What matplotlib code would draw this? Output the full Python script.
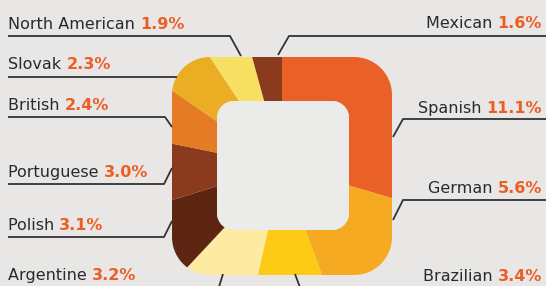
import numpy as np
import matplotlib
matplotlib.use('Agg')
import matplotlib.pyplot as plt
from matplotlib.path import Path
from matplotlib.patches import PathPatch

# data, clockwise from 12 o'clock
groups = ['Spanish', 'German', 'Brazilian', 'Argentine', 'Polish',
          'Portuguese', 'British', 'Slovak', 'North American', 'Mexican']
shares = [11.1, 5.6, 3.4, 3.2, 3.1, 3.0, 2.4, 2.3, 1.9, 1.6]
colors = ['#E96126', '#F5AA21', '#FDCA15', '#FEEBA2', '#5E2612',
          '#8A3A1D', '#E67B25', '#EBAD23', '#F7DF62', '#8A3A1D']

BG = '#E8E7E5'
INNER = '#EBEBE9'
ORANGE = '#EC5E25'
DARK = '#2A2A2A'
LINE = '#333333'

plt.rcParams['font.family'] = ['DejaVu Sans']


def rounded_rect(x0, y0, x1, y1, r, n=24):
    # corners in image coords, returns closed polygon
    pts = []
    for cx, cy, a0 in [(x1 - r, y0 + r, -90), (x1 - r, y1 - r, 0),
                       (x0 + r, y1 - r, 90), (x0 + r, y0 + r, 180)]:
        t = np.radians(np.linspace(a0, a0 + 90, n))
        pts.append(np.column_stack([cx + r * np.cos(t), cy + r * np.sin(t)]))
    return np.vstack(pts)


def main():
    fig = plt.figure(figsize=(5.46, 2.86), dpi=100)
    fig.patch.set_facecolor(BG)
    ax = fig.add_axes([0, 0, 1, 1])

    center = (282, 166)
    wedges, _ = ax.pie(shares, colors=colors, startangle=-90, counterclock=True,
                       center=center, radius=300,
                       wedgeprops=dict(linewidth=0))

    outer = rounded_rect(172, 57, 392, 275, 38)
    inner = rounded_rect(217, 101, 349, 230, 17)
    verts = np.vstack([outer, outer[:1], inner[::-1], inner[-1:]])
    codes = ([Path.MOVETO] + [Path.LINETO] * (len(outer) - 1) + [Path.CLOSEPOLY] +
             [Path.MOVETO] + [Path.LINETO] * (len(inner) - 1) + [Path.CLOSEPOLY])
    ring = PathPatch(Path(verts, codes), transform=ax.transData,
                     facecolor='none', edgecolor='none')
    ax.add_patch(ring)
    for w in wedges:
        w.set_clip_on(True)
        w.set_clip_path(ring)

    ax.add_patch(PathPatch(Path(np.vstack([inner, inner[:1]]), closed=True),
                           facecolor=INNER, edgecolor='none'))

    ax.set_xlim(0, 546)
    ax.set_ylim(286, 0)
    ax.set_aspect('auto')
    ax.axis('off')

    # labels: (name, baseline y)
    left = [('North American', 29), ('Slovak', 69), ('British', 110),
            ('Portuguese', 177), ('Polish', 230), ('Argentine', 280)]
    right = [('Mexican', 28), ('Spanish', 113), ('German', 193), ('Brazilian', 281)]
    val = dict(zip(groups, shares))
    fs = 11.5
    for name, y in left:
        t = ax.text(8, y, name + ' ', fontsize=fs, color=DARK, va='baseline', ha='left')
        ax.annotate('%.1f%%' % val[name], xycoords=t, xy=(1, 0), va='bottom',
                    fontsize=fs, color=ORANGE, fontweight='bold')
    for name, y in right:
        t = ax.text(542, y, '%.1f%%' % val[name], fontsize=fs, color=ORANGE,
                    fontweight='bold', va='baseline', ha='right')
        ax.annotate(name + ' ', xycoords=t, xy=(0, 0), va='bottom', ha='right',
                    fontsize=fs, color=DARK)

    # leader lines
    leaders = [
        [(8, 36), (230, 36), (241, 56)],
        [(8, 77), (177, 77)],
        [(8, 117), (165, 117), (172, 127)],
        [(8, 184), (164, 184), (172, 168)],
        [(8, 237), (164, 237), (172, 221)],
        [(223, 274), (218, 290)],
        [(546, 36), (289, 36), (278, 55)],
        [(546, 119), (403, 119), (393, 137)],
        [(546, 200), (403, 200), (393, 220)],
        [(295, 274), (301, 290)],
    ]
    for pts in leaders:
        xs, ys = zip(*pts)
        ax.plot(xs, ys, color=LINE, lw=1.3, solid_capstyle='butt')

    fig.savefig('out.png', dpi=100, facecolor=BG)


if __name__ == '__main__':
    main()
